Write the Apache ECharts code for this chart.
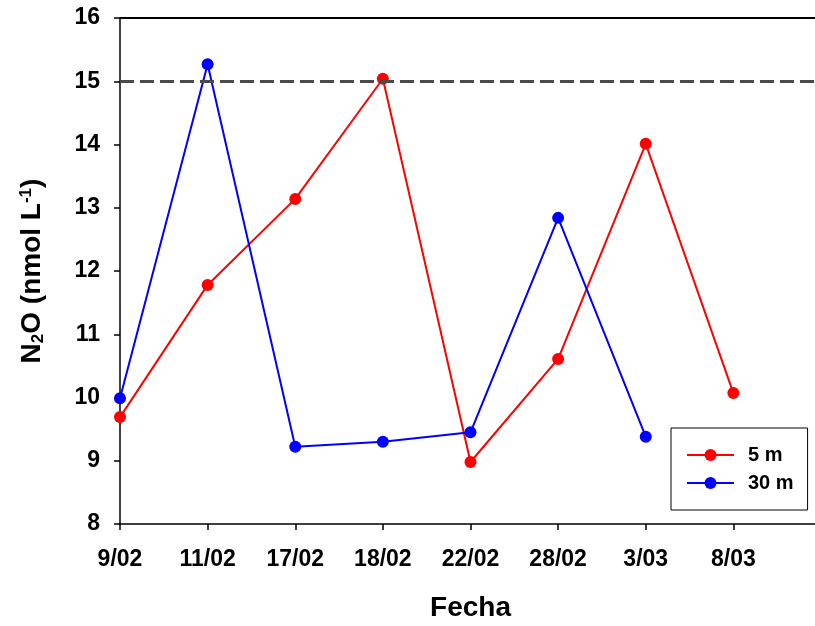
<!DOCTYPE html>
<html>
<head>
<meta charset="utf-8">
<script src="https://cdn.jsdelivr.net/npm/echarts@6/dist/echarts.min.js"></script>
<style>
  html, body { margin: 0; padding: 0; background: #fff; overflow: hidden; }
  #chart { width: 815px; height: 626px; }
</style>
</head>
<body>
<div id="chart"></div>
<script>
const fechas = ["9/02", "11/02", "17/02", "18/02", "22/02", "28/02", "3/03", "8/03", ""]
const n2o5m = [9.69, 11.78, 13.14, 15.04, 8.98, 10.61, 14.01, 10.07]
const n2o30m = [9.99, 15.27, 9.22, 9.30, 9.45, 12.84, 9.38, null]
const limite = 15

const chart = echarts.init(document.getElementById("chart"))
const font = "Liberation Sans, Arial, sans-serif"

const option = {
  backgroundColor: "#fff",
  animation: false,
  textStyle: { fontFamily: font },
  grid: { left: 120, width: 701, top: 18, height: 506, outerBoundsMode: "none", containLabel: false },
  legend: {
    left: 671,
    top: 428,
    orient: "vertical",
    padding: [17, 14, 17, 15],
    itemGap: 8,
    itemWidth: 47,
    itemHeight: 15,
    borderColor: "#000",
    borderWidth: 1,
    borderRadius: 0,
    textStyle: {
      fontSize: 20, fontWeight: "bold", color: "#000", fontFamily: font,
      lineHeight: 20, padding: [0, 0, 0, 9],
    },
    data: ["5 m", "30 m"],
  },
  xAxis: {
    type: "category",
    data: fechas,
    boundaryGap: false,
    name: "Fecha",
    nameLocation: "middle",
    nameGap: 70,
    nameTextStyle: { fontSize: 28, fontWeight: "bold", color: "#000" },
    axisLine: { lineStyle: { color: "#000", width: 1.5 } },
    axisTick: { alignWithLabel: true, length: 6, lineStyle: { color: "#000", width: 1.5 } },
    axisLabel: { fontSize: 23, fontWeight: "bold", color: "#000", margin: 24 },
    splitLine: { show: false },
  },
  yAxis: {
    type: "value",
    min: 8,
    max: 16,
    interval: 1,
    name: "{b|N}{sub|2}{b|O (nmol L}{sup|-1}{b|)}",
    nameLocation: "middle",
    nameGap: 73,
    nameRotate: 90,
    nameTextStyle: {
      rich: {
        b: { fontSize: 28, fontWeight: "bold", color: "#000", fontFamily: font },
        sub: { fontSize: 17, fontWeight: "bold", color: "#000", fontFamily: font, verticalAlign: "bottom", padding: [12, 0, 0, 0] },
        sup: { fontSize: 17, fontWeight: "bold", color: "#000", fontFamily: font, verticalAlign: "top", padding: [0, 0, 12, 0] },
      },
    },
    axisLine: { show: true, lineStyle: { color: "#000", width: 1.5 } },
    axisTick: { show: true, length: 6, lineStyle: { color: "#000", width: 1.5 } },
    axisLabel: { fontSize: 23, fontWeight: "bold", color: "#000", margin: 20 },
    splitLine: { show: false },
  },
  graphic: [
    { type: "line", shape: { x1: 120, y1: 18, x2: 815, y2: 18 }, style: { stroke: "#000", lineWidth: 2 } },
  ],
  series: [
    {
      name: "5 m",
      type: "line",
      data: n2o5m,
      symbol: "circle",
      symbolSize: 12,
      color: "#ff0000",
      lineStyle: { color: "#ff0000", width: 2 },
      itemStyle: { color: "#ff0000" },
      markLine: {
        silent: true,
        symbol: "none",
        label: { show: false },
        lineStyle: { color: "#4a4a4a", width: 3, type: [14, 6] },
        data: [{ yAxis: limite }],
      },
      z: 3,
    },
    {
      name: "30 m",
      type: "line",
      data: n2o30m,
      symbol: "circle",
      symbolSize: 12,
      color: "#0000ff",
      lineStyle: { color: "#0000ff", width: 2 },
      itemStyle: { color: "#0000ff" },
      z: 4,
    },
  ],
}

chart.setOption(option)
</script>
</body>
</html>
